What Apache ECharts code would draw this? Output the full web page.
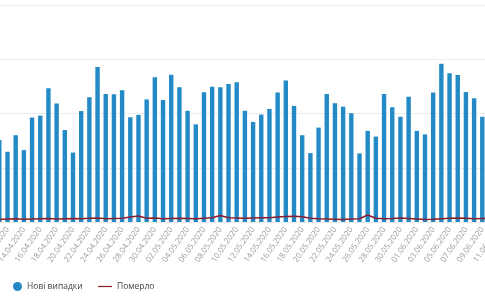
<!DOCTYPE html>
<html>
<head>
<meta charset="utf-8">
<script src="https://cdn.jsdelivr.net/npm/echarts@6/dist/echarts.min.js"></script>
<style>
html,body{margin:0;padding:0;background:#fff;}
#chart{width:485px;height:299px;}
</style>
</head>
<body>
<div id="chart"></div>
<script>
const categories = [
  "11.04.2020","12.04.2020","13.04.2020","14.04.2020","15.04.2020","16.04.2020","17.04.2020","18.04.2020",
  "19.04.2020","20.04.2020","21.04.2020","22.04.2020","23.04.2020","24.04.2020","25.04.2020","26.04.2020",
  "27.04.2020","28.04.2020","29.04.2020","30.04.2020","01.05.2020","02.05.2020","03.05.2020","04.05.2020",
  "05.05.2020","06.05.2020","07.05.2020","08.05.2020","09.05.2020","10.05.2020","11.05.2020","12.05.2020",
  "13.05.2020","14.05.2020","15.05.2020","16.05.2020","17.05.2020","18.05.2020","19.05.2020","20.05.2020",
  "21.05.2020","22.05.2020","23.05.2020","24.05.2020","25.05.2020","26.05.2020","27.05.2020","28.05.2020",
  "29.05.2020","30.05.2020","31.05.2020","01.06.2020","02.06.2020","03.06.2020","04.06.2020","05.06.2020",
  "06.06.2020","07.06.2020","08.06.2020","09.06.2020","10.06.2020","11.06.2020"
];
const newCases = [
  302,259,320,265,385,392,493,437,339,256,409,460,571,472,471,486,
  386,395,452,534,450,543,497,410,360,478,499,497,509,515,410,369,
  396,417,477,522,428,320,254,348,472,438,425,401,253,336,315,472,
  423,388,462,336,323,477,583,548,542,479,456,388,null,null
];
const deaths = [
  9,11,12,10,11,12,13,11,12,13,12,14,15,12,13,14,
  18,22,14,15,12,13,14,13,12,14,16,24,16,15,14,15,
  16,16,18,20,21,19,14,12,11,10,9,11,12,26,14,12,
  13,15,13,11,9,10,12,14,15,14,12,13,13,null
];
const yTicks = [0,200,400,600,800];

const chart = echarts.init(document.getElementById('chart'), null, {renderer:'canvas'});
chart.setOption({
  animation:false,
  backgroundColor:'#ffffff',
  grid:{left:-4.78, right:-17.75, top:5, bottom:77, containLabel:false, outerBoundsMode:'none'},
  legend:[
    {left:13, top:282, padding:0, itemWidth:9, itemHeight:9,
     textStyle:{fontSize:8.5, color:'#444', fontFamily:'Open Sans'},
     data:[{name:'Нові випадки', icon:'circle'}]},
    {left:98, top:282, padding:0, itemWidth:14, itemHeight:9,
     textStyle:{fontSize:8.5, color:'#444', fontFamily:'Open Sans'},
     data:[{name:'Померло', icon:'path://M0,3.9 L14,3.9 L14,5.1 L0,5.1 Z'}]}
  ],
  xAxis:{
    type:'category',
    data:categories,
    boundaryGap:true,
    axisTick:{show:false},
    axisLine:{show:false},
    axisLabel:{
      interval:function(i){return i % 2 === 1;},
      rotate:55,
      fontSize:8,
      color:'#9a9a9a',
      fontFamily:'Open Sans',
      margin:6,
      hideOverlap:false
    }
  },
  yAxis:{
    type:'value',
    min:yTicks[0], max:yTicks[yTicks.length-1], interval:200,
    axisLabel:{show:false},
    axisLine:{show:false},
    axisTick:{show:false},
    splitLine:{lineStyle:{color:'#ececec', width:1}}
  },
  series:[
    {name:'Нові випадки', type:'bar', data:newCases, barWidth:4.4,
     itemStyle:{color:'#238ac6'}},
    {name:'Померло', type:'line', data:deaths, symbol:'none', showSymbol:false,
     lineStyle:{color:'#8c1d2e', width:1.5}, itemStyle:{color:'#8c1d2e'}}
  ]
});
</script>
</body>
</html>
